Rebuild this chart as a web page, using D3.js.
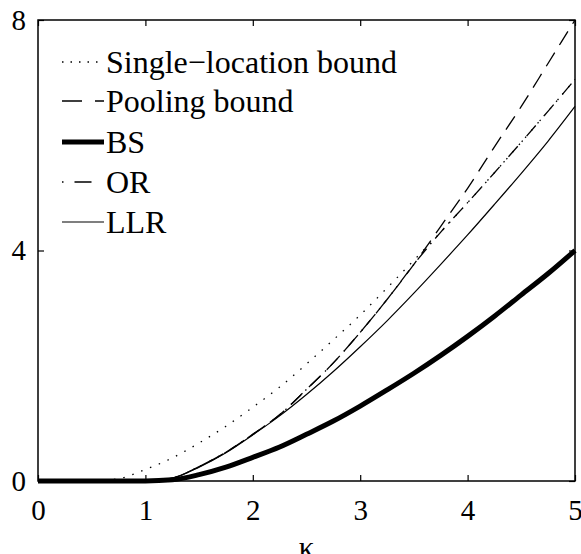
<!DOCTYPE html>
<html>
<head>
<meta charset="utf-8">
<title>Bounds vs kappa</title>
<script src="https://cdn.jsdelivr.net/npm/d3@7"></script>
<style>
  body { margin: 0; background: #fff; }
  text { font-family: "Liberation Serif", "Times New Roman", serif; fill: #000; }
</style>
</head>
<body>
<script>
// values, one entry per kappa
var kappa = [0, 0.25, 0.5, 0.75, 1, 1.25, 1.5, 1.75, 2, 2.25, 2.5, 2.75, 3, 3.25, 3.5, 3.75, 4, 4.25, 4.5, 4.75, 5];
var single  = [0, 0, 0, 0.04, 0.20, 0.40, 0.66, 0.95, 1.28, 1.63, 2.03, 2.45, 2.88, 3.35, 3.83, 4.32, 4.83, 5.35, 5.88, 6.42, 6.97];
var pooling = [0, 0, 0, 0, 0, 0.05, 0.25, 0.50, 0.81, 1.15, 1.59, 2.05, 2.58, 3.15, 3.76, 4.42, 5.08, 5.80, 6.50, 7.25, 8.0];
var bs      = [0, 0, 0, 0, 0, 0.02, 0.11, 0.24, 0.41, 0.59, 0.81, 1.04, 1.30, 1.58, 1.87, 2.18, 2.51, 2.86, 3.23, 3.60, 4.0];
var or      = [0, 0, 0, 0, 0, 0.05, 0.25, 0.50, 0.81, 1.15, 1.59, 2.05, 2.58, 3.15, 3.76, 4.32, 4.83, 5.35, 5.88, 6.42, 6.97];
var llr     = [0, 0, 0, 0, 0, 0.05, 0.24, 0.49, 0.80, 1.13, 1.50, 1.90, 2.33, 2.78, 3.26, 3.76, 4.27, 4.80, 5.34, 5.90, 6.5];

var xTicks = [0, 1, 2, 3, 4, 5];
var yTicks = [0, 4, 8];
var legendNames = ["Single\u2212location bound", "Pooling bound", "BS", "OR", "LLR"];

var W = 581, H = 554;
var mLeft = 38, mRight = 575, mTop = 20, mBottom = 481;

var svg = d3.select("body").append("svg")
    .attr("width", W)
    .attr("height", H);

var x = d3.scaleLinear().domain([0, 5]).range([mLeft, mRight]);
var y = d3.scaleLinear().domain([0, 8]).range([mBottom, mTop]);

// legDash: the short legend samples show a different phase of the pattern
var series = [
  {vals: single,  width: 1.3, dash: "1.5,8",        legDash: "1.5,7"},
  {vals: pooling, width: 1.3, dash: "16,9",         legDash: "20,13"},
  {vals: bs,      width: 5,   dash: null,           legDash: null},
  {vals: or,      width: 1.3, dash: "14,6,1.5,6",   legDash: "1.5,11,17,20"},
  {vals: llr,     width: 1.2, dash: null,           legDash: null}
];

var line = d3.line()
    .x(function(d, i) { return x(kappa[i]); })
    .y(function(d) { return y(d); })
    .curve(d3.curveMonotoneX);

// draw order: thin ones first, thick BS on top
[0, 1, 3, 4, 2].forEach(function(k) {
  var s = series[k];
  svg.append("path")
      .attr("d", line(s.vals))
      .attr("fill", "none")
      .attr("stroke", "#000")
      .attr("stroke-width", s.width)
      .attr("stroke-dasharray", s.dash);
});

// frame + inward ticks on all sides
svg.append("rect")
    .attr("x", mLeft).attr("y", mTop)
    .attr("width", mRight - mLeft).attr("height", mBottom - mTop)
    .attr("fill", "none").attr("stroke", "#000").attr("stroke-width", 1.5);

var fs = 29, legFs = 32;
var fmt = d3.format("d");

var gx = svg.append("g").attr("transform", "translate(0," + mBottom + ")")
    .call(d3.axisBottom(x).tickValues(xTicks).tickFormat(fmt).tickSizeInner(-6).tickSizeOuter(0).tickPadding(18));
var gxt = svg.append("g").attr("transform", "translate(0," + mTop + ")")
    .call(d3.axisTop(x).tickValues(xTicks).tickSizeInner(-6).tickSizeOuter(0).tickFormat(""));
var gy = svg.append("g").attr("transform", "translate(" + mLeft + ",0)")
    .call(d3.axisLeft(y).tickValues(yTicks).tickFormat(fmt).tickSizeInner(-6).tickSizeOuter(0).tickPadding(12));
var gyr = svg.append("g").attr("transform", "translate(" + mRight + ",0)")
    .call(d3.axisRight(y).tickValues(yTicks).tickSizeInner(-6).tickSizeOuter(0).tickFormat(""));

[gx, gxt, gy, gyr].forEach(function(g) {
  g.select(".domain").remove();
  g.selectAll(".tick line").attr("stroke", "#000").attr("stroke-width", 1.2);
  g.selectAll("text")
      .style("font-family", "'Liberation Serif', 'Times New Roman', serif")
      .style("font-size", fs + "px")
      .attr("fill", "#000");
});
gx.selectAll("text").attr("dy", "0.72em");

svg.append("text")
    .attr("x", (mLeft + mRight) / 2)
    .attr("y", 558)
    .attr("text-anchor", "middle")
    .style("font-size", "31px")
    .text("\u03ba");

// legend, no box
var leg = svg.append("g");
var rowY = [62, 101, 142, 182, 222];
legendNames.forEach(function(name, i) {
  var s = series[i];
  leg.append("line")
      .attr("x1", 62).attr("x2", 104)
      .attr("y1", rowY[i]).attr("y2", rowY[i])
      .attr("stroke", "#000")
      .attr("stroke-width", s.width)
      .attr("stroke-dasharray", s.legDash);
  leg.append("text")
      .attr("x", 106)
      .attr("y", rowY[i] + 11)
      .style("font-size", legFs + "px")
      .text(name);
});
</script>
</body>
</html>
